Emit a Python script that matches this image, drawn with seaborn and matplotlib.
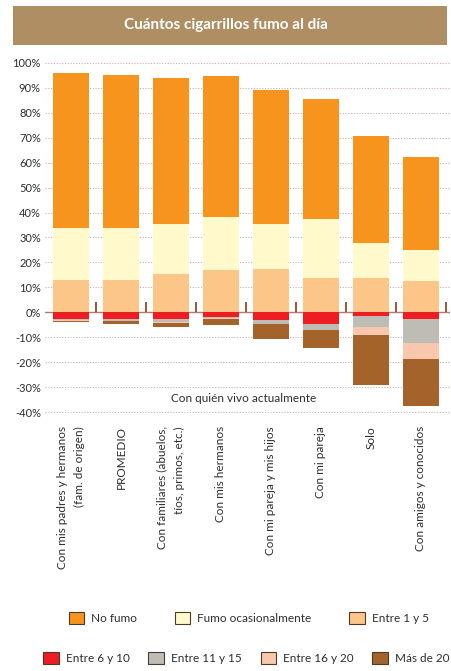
import numpy as np
import seaborn as sns
from matplotlib import pyplot
from matplotlib.patches import Patch, Rectangle
from matplotlib.transforms import blended_transform_factory

# Data (percent of respondents)
categories = [
    'Con mis padres y hermanos\n(fam. de origen)',
    'PROMEDIO',
    'Con familiares (abuelos,\ntíos, primos, etc.)',
    'Con mis hermanos',
    'Con mi pareja y mis hijos',
    'Con mi pareja',
    'Solo',
    'Con amigos y conocidos',
]
no_fumo = [62.2, 61.4, 58.7, 56.6, 54.0, 47.9, 43.1, 37.5]
ocasional = [21.0, 21.0, 20.0, 21.3, 17.8, 23.9, 13.8, 12.5]
entre_1_5 = [12.9, 12.9, 15.3, 16.9, 17.5, 13.7, 13.8, 12.4]
entre_6_10 = [2.8, 2.8, 2.8, 2.0, 2.9, 4.8, 1.6, 2.8]
entre_11_15 = [0.4, 0.7, 1.1, 0.2, 1.8, 2.4, 4.3, 9.5]
entre_16_20 = [0.2, 0.1, 0.3, 0.6, 0.0, 0.0, 3.3, 6.6]
mas_de_20 = [0.5, 1.1, 1.7, 2.3, 6.0, 7.1, 20.1, 18.7]

series_names = ['No fumo', 'Fumo ocasionalmente', 'Entre 1 y 5',
                'Entre 6 y 10', 'Entre 11 y 15', 'Entre 16 y 20', 'Más de 20']
colors = ['#F7941D', '#FFF9CC', '#FCC688', '#EE1D24', '#BDBDB5', '#F9C7AE', '#A5632C']

sns.set_style('white')
pyplot.rcParams['font.family'] = ['Lato', 'DejaVu Sans']
text_color = '#2e2e2e'

fig = pyplot.figure(figsize=(4.52, 6.71), dpi=100)
ax = fig.add_axes([45 / 452, 1 - 415 / 671, 405 / 452, 357 / 671])

# positive stack: smokers who smoke little / not at all
positive = [np.array(entre_1_5), np.array(ocasional), np.array(no_fumo)]
pos_cum = np.cumsum(positive, axis=0)
for level, color in zip(reversed(range(3)), [colors[0], colors[1], colors[2]]):
    sns.barplot(x=categories, y=pos_cum[level], color=color, saturation=1,
                width=0.72, linewidth=0, ax=ax, zorder=3)

# negative stack: regular smokers, drawn downward
negative = [np.array(entre_6_10), np.array(entre_11_15), np.array(entre_16_20), np.array(mas_de_20)]
neg_cum = np.cumsum(negative, axis=0)
for level, color in zip(reversed(range(4)), [colors[6], colors[5], colors[4], colors[3]]):
    sns.barplot(x=categories, y=-neg_cum[level], color=color, saturation=1,
                width=0.72, linewidth=0, ax=ax, zorder=3)

ax.set_xlim(-0.52, len(categories) - 0.42)
ax.set_ylim(-41.2, 102)
yticks = np.arange(-40, 101, 10)
ax.set_yticks(yticks)
ax.set_yticklabels([f'{t}%' for t in yticks], fontsize=8, color=text_color)
ax.tick_params(axis='y', length=0, pad=3)
ax.tick_params(axis='x', length=0, pad=8)
ax.set_xticks(range(len(categories)))
ax.set_xticklabels(categories, rotation=90, fontsize=8.5, color=text_color,
                   linespacing=1.75, va='top', ha='center', multialignment='right')
for spine in ax.spines.values():
    spine.set_visible(False)

for t in yticks:
    if t != 0:
        ax.axhline(t, color='#D4AAAA', linestyle=(0, (1, 1.5)), linewidth=0.8, zorder=1)
ax.axhline(0, color='#B57A6E', linewidth=1.0, zorder=2)
ax.vlines(np.arange(len(categories)) + 0.5, 0, 4, color='#8B3A1A', linewidth=1.2, zorder=2)

trans = blended_transform_factory(ax.transAxes, ax.transData)
ax.text(0.49, -34.5, 'Con quién vivo actualmente', transform=trans, ha='center',
        va='center', fontsize=8.5, color=text_color)
ax.set_xlabel('')

# title banner
fig.patches.append(Rectangle((13 / 452, 1 - 45 / 671), 434 / 452, 39 / 671,
                             transform=fig.transFigure, facecolor='#AE8E62',
                             edgecolor='none'))
fig.text(0.5, 1 - 25 / 671, 'Cuántos cigarrillos fumo al día', ha='center', va='center',
         fontsize=11, fontweight='bold', color='white')

handles = [Patch(facecolor=c, edgecolor='#4a3a2a', linewidth=0.8) for c in colors]
fig.legend(handles[:3], series_names[:3], loc='center', ncol=3,
           bbox_to_anchor=(0.55, 1 - 618 / 671), frameon=False, fontsize=8.5,
           handlelength=1.3, handleheight=1.3, handletextpad=0.6, columnspacing=3.2,
           labelcolor=text_color)
fig.legend(handles[3:], series_names[3:], loc='center', ncol=4,
           bbox_to_anchor=(0.545, 1 - 658 / 671), frameon=False, fontsize=8.5,
           handlelength=1.3, handleheight=1.3, handletextpad=0.6, columnspacing=1.6,
           labelcolor=text_color)

fig.savefig('out.png', dpi=100)
